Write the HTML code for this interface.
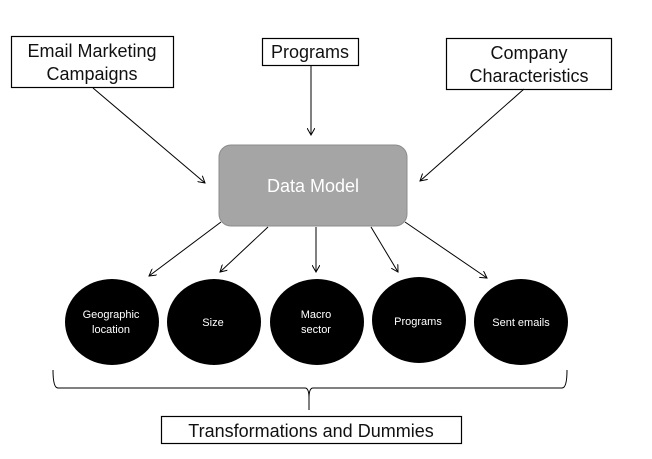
<!DOCTYPE html>
<html><head><style>
body{margin:0;background:#fff;}
svg text{font-family:"Liberation Sans",sans-serif;}
</style></head><body>
<svg width="652" height="454" viewBox="0 0 652 454" xmlns="http://www.w3.org/2000/svg">
<defs><marker id="a" markerWidth="8" markerHeight="8" refX="7" refY="4" orient="auto" markerUnits="userSpaceOnUse"><path d="M0,0 L7,4 L0,8" fill="none" stroke="#000" stroke-width="1"/></marker></defs>
<rect width="652" height="454" fill="#fff"/>
<rect x="11.5" y="36.5" width="162" height="51" fill="#fff" stroke="#000" stroke-width="1.2"/>
<text x="92" y="57" font-size="18" text-anchor="middle" fill="#111">Email Marketing</text>
<text x="92" y="80" font-size="18" text-anchor="middle" fill="#111">Campaigns</text>
<rect x="262.5" y="38.5" width="96" height="27" fill="#fff" stroke="#000" stroke-width="1.2"/>
<text x="310" y="58" font-size="18" text-anchor="middle" fill="#111">Programs</text>
<rect x="446.5" y="38.5" width="165" height="51" fill="#fff" stroke="#000" stroke-width="1.2"/>
<text x="529" y="59" font-size="18" text-anchor="middle" fill="#111">Company</text>
<text x="529" y="82" font-size="18" text-anchor="middle" fill="#111">Characteristics</text>
<g stroke="#000" stroke-width="1" marker-end="url(#a)">
<line x1="93" y1="88" x2="205" y2="183"/>
<line x1="311" y1="66" x2="311" y2="135"/>
<line x1="524" y1="89" x2="420" y2="181"/>
<line x1="221" y1="222" x2="149" y2="276"/>
<line x1="268" y1="227" x2="220" y2="272"/>
<line x1="316" y1="227" x2="316" y2="272"/>
<line x1="371" y1="227" x2="398" y2="272"/>
<line x1="405" y1="222" x2="487" y2="278"/>
</g>
<rect x="219" y="145" width="188" height="81" rx="12" fill="#a5a5a5" stroke="#8c8c8c" stroke-width="1"/>
<text x="313" y="192" font-size="18" text-anchor="middle" fill="#fff">Data Model</text>
<g fill="#000">
<ellipse cx="112" cy="322" rx="47" ry="43"/>
<ellipse cx="214" cy="322" rx="47" ry="43"/>
<ellipse cx="317" cy="322" rx="47" ry="43"/>
<ellipse cx="419" cy="320" rx="47" ry="43"/>
<ellipse cx="521" cy="322" rx="47" ry="43"/>
</g>
<g fill="#fff" font-size="11" text-anchor="middle">
<text x="111" y="318">Geographic</text><text x="111" y="333">location</text>
<text x="213" y="326">Size</text>
<text x="316" y="318">Macro</text><text x="316" y="333">sector</text>
<text x="418" y="325">Programs</text>
<text x="521" y="326">Sent emails</text>
</g>
<path d="M53,370 Q53,388 58,388 L305,388 Q309,388 309,398 L309,410 M309,398 Q309,388 313,388 L562,388 Q567,388 567,370" fill="none" stroke="#000" stroke-width="1"/>
<rect x="161.5" y="416.5" width="300" height="27" fill="#fff" stroke="#000" stroke-width="1.2"/>
<text x="311" y="437" font-size="18" text-anchor="middle" fill="#111">Transformations and Dummies</text>
</svg>
</body></html>
